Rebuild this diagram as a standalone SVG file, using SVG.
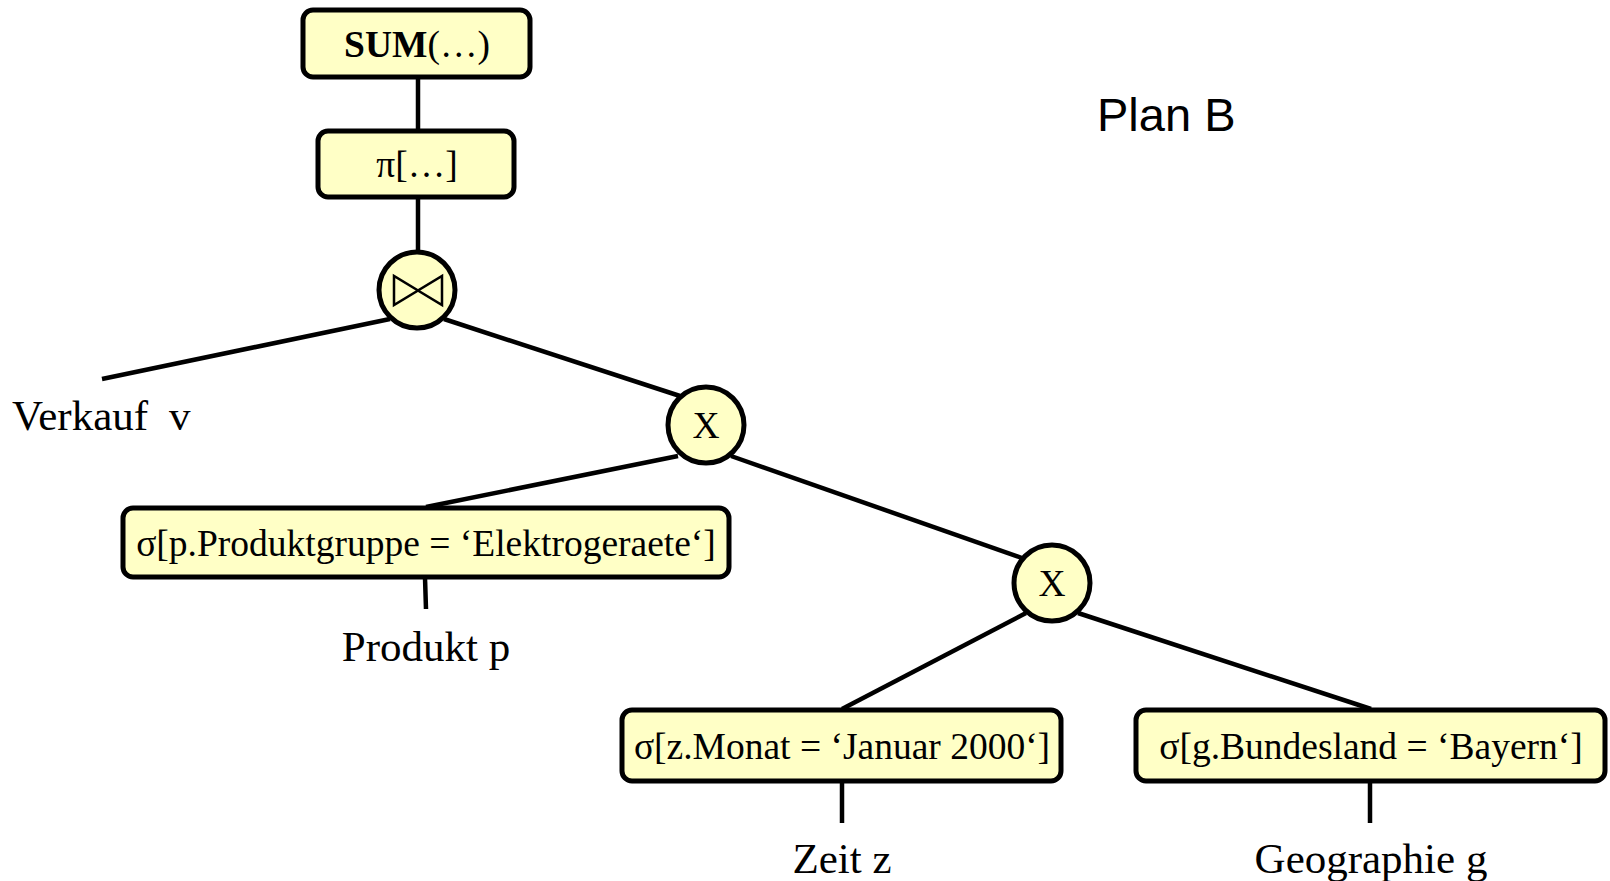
<svg xmlns="http://www.w3.org/2000/svg" width="1610" height="881" viewBox="0 0 1610 881">
<style>
.box{fill:#FFFFC6;stroke:#000;stroke-width:5}
.c{fill:#FFFFC6;stroke:#000;stroke-width:5}
.ln{stroke:#000;stroke-width:4.5;fill:none}
.t{font-family:"Liberation Serif","Times New Roman",serif;font-size:37.5px;fill:#000}
.lb{font-family:"Liberation Serif","Times New Roman",serif;font-size:43px;fill:#000}
.m{text-anchor:middle}
</style>
<rect width="1610" height="881" fill="#fff"/>
<g id="connectors">
<line class="ln" x1="418" y1="79" x2="418" y2="130"/>
<line class="ln" x1="418" y1="198" x2="418" y2="252"/>
<line class="ln" x1="390" y1="319" x2="102" y2="379"/>
<line class="ln" x1="444" y1="319" x2="680" y2="396"/>
<line class="ln" x1="678" y1="456" x2="426" y2="507"/>
<line class="ln" x1="425" y1="578" x2="426" y2="609"/>
<line class="ln" x1="731" y1="456" x2="1022" y2="558"/>
<line class="ln" x1="1026" y1="613" x2="842" y2="709"/>
<line class="ln" x1="1078" y1="613" x2="1371" y2="709"/>
<line class="ln" x1="842" y1="782" x2="842" y2="823"/>
<line class="ln" x1="1370" y1="782" x2="1370" y2="823"/>
</g>
<g id="sum">
<rect class="box" x="303" y="10" width="227" height="67" rx="10"/>
<text class="t m" x="417" y="57"><tspan font-weight="bold">SUM</tspan>(…)</text>
</g>
<g id="proj">
<rect class="box" x="318" y="131" width="196" height="66" rx="10"/>
<text class="t m" x="417" y="177">π[…]</text>
</g>
<g id="join">
<circle class="c" cx="417" cy="290" r="38"/>
<path d="M394 276 L394 305 L418 290.5 Z M442 276 L442 305 L418 290.5 Z" fill="none" stroke="#000" stroke-width="2.5" stroke-linejoin="miter"/>
</g>
<g id="verkauf">
<text class="lb" x="12" y="430">Verkauf</text>
<text class="lb" x="169" y="430">v</text>
</g>
<g id="x1">
<circle class="c" cx="706" cy="425" r="38"/>
<text class="t m" x="706" y="438">X</text>
</g>
<g id="sel1">
<rect class="box" x="123" y="508" width="606" height="69" rx="10"/>
<text class="t m" x="426" y="556">σ[p.Produktgruppe = ‘Elektrogeraete‘]</text>
</g>
<g id="produkt">
<text class="lb m" x="426" y="661">Produkt p</text>
</g>
<g id="x2">
<circle class="c" cx="1052" cy="583" r="38"/>
<text class="t m" x="1052" y="596">X</text>
</g>
<g id="sel2">
<rect class="box" x="622" y="710" width="439" height="71" rx="10"/>
<text class="t m" x="842" y="759">σ[z.Monat = ‘Januar 2000‘]</text>
</g>
<g id="sel3">
<rect class="box" x="1136" y="710" width="469" height="71" rx="10"/>
<text class="t m" x="1371" y="759">σ[g.Bundesland = ‘Bayern‘]</text>
</g>
<g id="zeit">
<text class="lb m" x="842" y="873">Zeit z</text>
</g>
<g id="geo">
<text class="lb m" x="1371" y="873">Geographie g</text>
</g>
<g id="title">
<text x="1097" y="131" style="font-family:'Liberation Sans',Arial,sans-serif;font-size:47px;fill:#000">Plan B</text>
</g>
</svg>
